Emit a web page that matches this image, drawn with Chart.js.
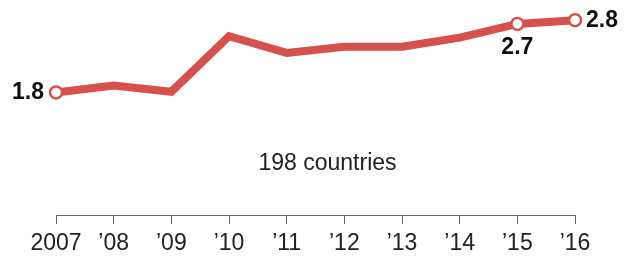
<!DOCTYPE html>
<html>
<head>
<meta charset="utf-8">
<script src="https://cdn.jsdelivr.net/npm/chart.js@4"></script>
<style>
  html, body { margin: 0; padding: 0; background: #fff; }
  #wrap { width: 631px; height: 260px; }
</style>
</head>
<body>
<div id="wrap"><canvas id="chart"></canvas></div>
<script>
const years = ["2007", "\u201908", "\u201909", "\u201910", "\u201911", "\u201912", "\u201913", "\u201914", "\u201915", "\u201916"];
const values = [1.8, 1.89, 1.81, 2.54, 2.32, 2.40, 2.40, 2.52, 2.7, 2.75];
const labelled = [0, 8, 9];            // points with a circle and a value
const labelSides = ["left", "below", "right"];
const note = "198 countries";

const red = "#d6504d";
const font = "'Liberation Sans', Arial, sans-serif";

// value labels next to the marked points + the note under the line
const labelsPlugin = {
  id: "valueLabels",
  afterDatasetsDraw(chart) {
    const ctx = chart.ctx;
    const pts = chart.getDatasetMeta(0).data;
    ctx.save();
    ctx.fillStyle = "#111";
    ctx.font = "bold 23px " + font;
    labelled.forEach((i, k) => {
      const p = pts[i];
      const txt = values[i].toFixed(1);
      const side = labelSides[k];
      ctx.textBaseline = "middle";
      if (side === "left") {
        ctx.textAlign = "right";
        ctx.fillText(txt, p.x - 12, p.y);
      } else if (side === "right") {
        ctx.textAlign = "left";
        ctx.fillText(txt, p.x + 11, p.y);
      } else {
        ctx.textAlign = "center";
        ctx.fillText(txt, p.x, p.y + 24);
      }
    });
    const a = chart.chartArea;
    ctx.font = "23px " + font;
    ctx.fillStyle = "#222";
    ctx.textAlign = "center";
    ctx.textBaseline = "middle";
    ctx.fillText(note, (a.left + a.right) / 2 + 12, a.bottom - 51);
    ctx.restore();
  }
};

new Chart(document.getElementById("chart"), {
  type: "line",
  data: {
    labels: years,
    datasets: [{
      data: values,
      borderColor: red,
      borderWidth: 8,
      borderJoinStyle: "miter",
      borderCapStyle: "butt",
      tension: 0,
      fill: false,
      pointRadius: values.map((v, i) => labelled.includes(i) ? 6 : 0),
      pointHoverRadius: 0,
      pointBackgroundColor: "#fff",
      pointBorderColor: red,
      pointBorderWidth: 2.5
    }]
  },
  options: {
    responsive: true,
    maintainAspectRatio: false,
    animation: false,
    events: [],
    layout: { autoPadding: false, padding: { left: 56, right: 56, top: 0, bottom: 0 } },
    plugins: {
      legend: { display: false },
      tooltip: { enabled: false }
    },
    scales: {
      x: {
        offset: false,
        grid: {
          display: true,
          drawOnChartArea: false,
          drawTicks: true,
          tickLength: 9,
          tickColor: "#666",
          tickWidth: 1
        },
        border: { display: true, color: "#666", width: 1 },
        ticks: {
          padding: 6,
          color: "#222",
          maxRotation: 0,
          autoSkip: false,
          font: { family: font, size: 23 }
        },
        afterFit(scale) { scale.height = 45; }
      },
      y: {
        display: false,
        min: 0.19,
        max: 3.015
      }
    }
  },
  plugins: [labelsPlugin]
});
</script>
</body>
</html>
